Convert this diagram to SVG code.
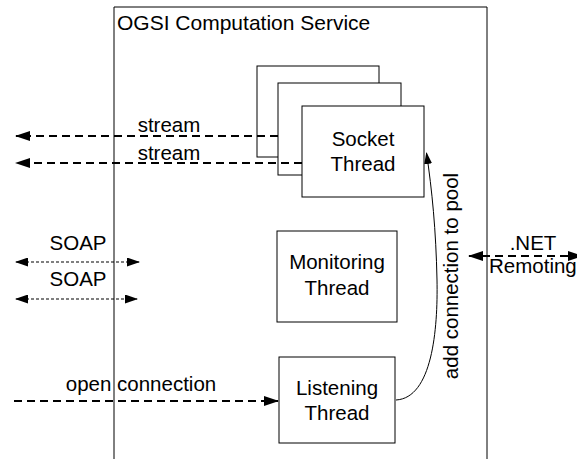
<svg xmlns="http://www.w3.org/2000/svg" width="577" height="459" viewBox="0 0 577 459">
<style>
text{font-family:"Liberation Sans",Arial,sans-serif;font-size:20.5px;fill:#000}
.c{text-anchor:middle}
.box{fill:#fff;stroke:#000;stroke-width:1}
.thick{fill:none;stroke:#000;stroke-width:2;stroke-dasharray:8 5}
.thin{fill:none;stroke:#000;stroke-width:1.2;stroke-dasharray:3 2}
.solid{fill:none;stroke:#000;stroke-width:1}
</style>
<defs>
<marker id="ah" markerWidth="15" markerHeight="10" refX="14" refY="5" orient="auto-start-reverse" markerUnits="userSpaceOnUse">
<path d="M0,0 L15,5 L0,10 z" fill="#000"/>
</marker>
<marker id="ahm" markerWidth="13" markerHeight="9" refX="12" refY="4.5" orient="auto-start-reverse" markerUnits="userSpaceOnUse">
<path d="M0,0 L13,4.5 L0,9 z" fill="#000"/>
</marker>
<marker id="ahs" markerWidth="12" markerHeight="8" refX="11" refY="4" orient="auto" markerUnits="userSpaceOnUse">
<path d="M0,0 L12,4 L0,8 z" fill="#000"/>
</marker>
</defs>
<rect width="577" height="459" fill="#fff"/>
<g id="service">
<path class="solid" d="M114,460 V7 H487 V460"/>
<text x="117" y="30" style="font-size:21px">OGSI Computation Service</text>
</g>
<g id="socket-thread">
<rect class="box" x="257" y="66" width="122" height="91"/>
<rect class="box" x="278" y="83" width="123" height="92"/>
<rect class="box" x="302" y="106" width="122" height="91"/>
<text class="c" x="363" y="146">Socket</text>
<text class="c" x="363" y="171">Thread</text>
</g>
<g id="monitoring-thread">
<rect class="box" x="277" y="231" width="120" height="91"/>
<text class="c" x="337" y="269">Monitoring</text>
<text class="c" x="337" y="295">Thread</text>
</g>
<g id="listening-thread">
<rect class="box" x="279" y="357" width="116" height="86"/>
<text class="c" x="337" y="395">Listening</text>
<text class="c" x="337" y="420">Thread</text>
</g>
<g id="connectors">
<line class="thick" x1="278" y1="136" x2="16" y2="136" marker-end="url(#ah)"/>
<text class="c" x="169" y="132">stream</text>
<line class="thick" x1="302" y1="163" x2="16" y2="163" marker-end="url(#ah)"/>
<text class="c" x="169" y="160">stream</text>
<line class="thin" x1="16" y1="262" x2="139" y2="262" marker-start="url(#ahm)" marker-end="url(#ahm)"/>
<text class="c" x="78" y="250">SOAP</text>
<line class="thin" x1="16" y1="299" x2="137" y2="299" marker-start="url(#ahm)" marker-end="url(#ahm)"/>
<text class="c" x="78" y="286">SOAP</text>
<line class="thick" x1="14" y1="401" x2="278" y2="401" marker-end="url(#ah)"/>
<text class="c" x="141" y="391">open connection</text>
<line class="thick" x1="469" y1="256" x2="582" y2="256" marker-start="url(#ah)" marker-end="url(#ah)"/>
<text class="c" x="533" y="250">.NET</text>
<text x="489" y="273">Remoting</text>
<path class="solid" d="M396,400 C432,398 438,330 437,280 C436,230 432,190 426.5,153" marker-end="url(#ahs)"/>
<text class="c" transform="translate(458,276) rotate(-90)">add connection to pool</text>
</g>
</svg>
